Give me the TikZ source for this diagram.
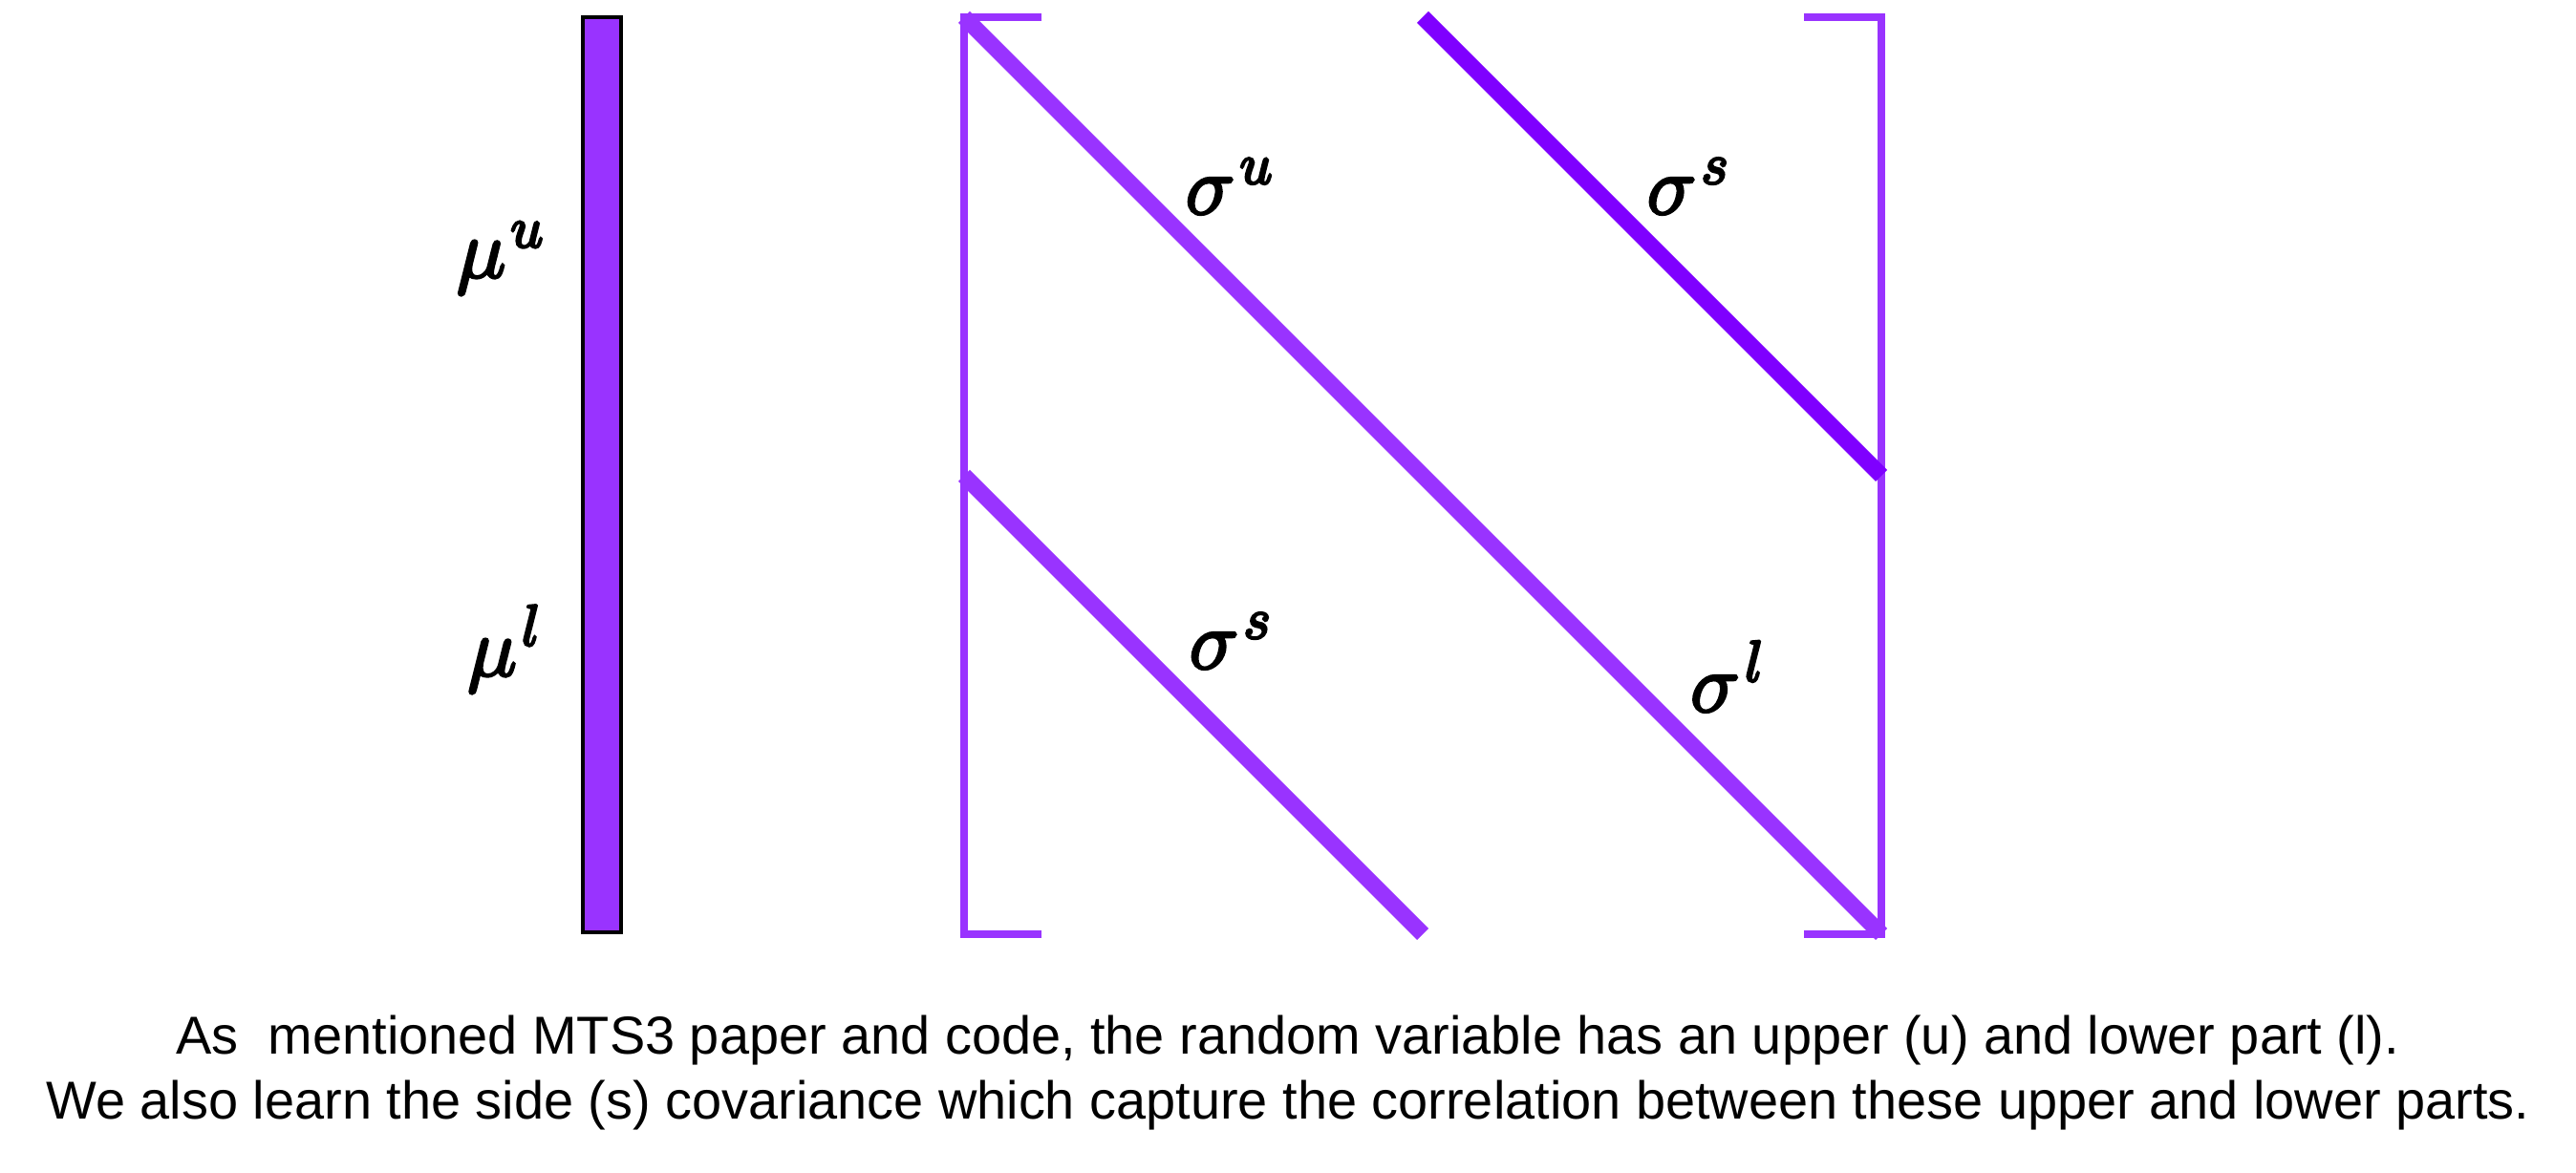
\documentclass[tikz,border=0pt]{standalone}
\usepackage{fontspec}
\setmainfont{Liberation Sans}
\definecolor{violetA}{HTML}{9933FF}
\definecolor{violetB}{HTML}{7F00FF}
% slightly heavier glyphs for the math labels
\newcommand{\heavy}[1]{\special{pdf:literal direct 2 Tr 0.8 w}#1\special{pdf:literal direct 0 Tr}}
\newcommand{\vlab}[2]{\heavy{$#1^{\mkern1.5mu #2}$}}
\begin{document}
\begin{tikzpicture}[
    bracket/.style={violetA, line width=0.08cm},
    diag/.style={line width=0.17cm},
    lbl/.style={font=\fontsize{24}{29}\selectfont},
    capt/.style={anchor=base, font=\fontsize{15.9}{20}\selectfont}]
  \useasboundingbox (0,0) rectangle (26.96,12.28);
  % mean vector
  \draw[fill=violetA, line width=0.04cm] (6.10,2.52) rectangle (6.50,12.10);
  \node[lbl] (muu) at (5.24,9.58) {\vlab{\mu}{u}};
  \node[lbl] (mul) at (5.28,5.49) {\vlab{\mu}{l}};
  % covariance brackets
  \draw[bracket] (10.90,12.10) -- (10.09,12.10) -- (10.09,2.50) -- (10.90,2.50);
  \draw[bracket] (18.88,12.10) -- (19.69,12.10) -- (19.69,2.50) -- (18.88,2.50);
  % diagonals
  \draw[diag, violetA] (10.09,12.10) -- (19.69,2.50);
  \draw[diag, violetB] (14.89,12.10) -- (19.69,7.30);
  \draw[diag, violetA] (10.09,7.30) -- (14.89,2.50);
  \node[lbl] (sigu) at (12.87,10.33) {\vlab{\sigma}{u}};
  \node[lbl] (sigsu) at (17.67,10.33) {\vlab{\sigma}{s}};
  \node[lbl] (sigsl) at (12.88,5.57) {\vlab{\sigma}{s}};
  \node[lbl] (sigl) at (18.08,5.20) {\vlab{\sigma}{l}};
  % caption
  \node[capt] (cap1) at (13.48,1.24) {As\ \ mentioned MTS3 paper and code, the random variable has an upper (u) and lower part (l).};
  \node[capt] (cap2) at (13.48,0.56) {We also learn the side (s) covariance which capture the correlation between these upper and lower parts.};
\end{tikzpicture}
\end{document}
